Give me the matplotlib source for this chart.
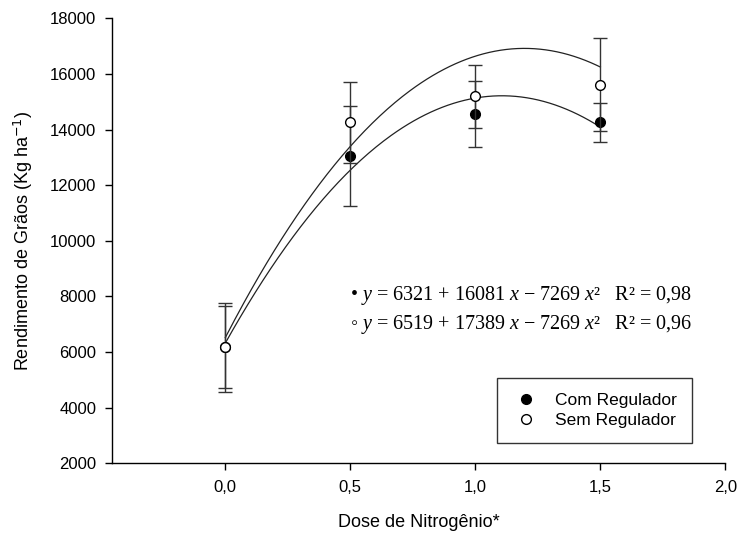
import numpy as np
import matplotlib
matplotlib.use("Agg")
import matplotlib.pyplot as plt
from matplotlib.lines import Line2D

plt.rcParams['font.family'] = ['Liberation Sans', 'DejaVu Sans']
plt.rcParams['mathtext.fontset'] = 'custom'
plt.rcParams['mathtext.rm'] = 'Liberation Serif'
plt.rcParams['mathtext.it'] = 'Liberation Serif:italic'
plt.rcParams['mathtext.bf'] = 'Liberation Serif:bold'

# Nitrogen doses and grain yield (kg/ha) with error bars
doses = [0.0, 0.5, 1.0, 1.5]
com_regulador = [6170, 13050, 14570, 14255]
com_erro = [1480, 1800, 1190, 710]
sem_regulador = [6180, 14255, 15200, 15614]
sem_erro = [1600, 1470, 1130, 1665]

# Quadratic fits: y = b0 + b1*x + b2*x^2
coef_com = [6321, 16081, -7269]
coef_sem = [6519, 17389, -7269]
r2_com = "0,98"
r2_sem = "0,96"

x_ticks = [0.0, 0.5, 1.0, 1.5, 2.0]
x_ticklabels = ["0,0", "0,5", "1,0", "1,5", "2,0"]
y_ticks = [2000, 4000, 6000, 8000, 10000, 12000, 14000, 16000, 18000]

fig = plt.figure(figsize=(7.41, 5.34), dpi=100)
ax = fig.add_axes([0.1505, 0.1324, 0.8285, 0.8333])

xs = np.linspace(0, 1.5, 200)
for c in (coef_com, coef_sem):
    ax.plot(xs, c[0] + c[1] * xs + c[2] * xs ** 2, color='#222222', lw=0.9, zorder=2)

ax.errorbar(doses, com_regulador, yerr=com_erro, fmt='o', color='#333333',
            mfc='black', mec='black', ms=7, ecolor='#333333', elinewidth=1.0,
            capsize=5, capthick=1.0, zorder=3)
ax.errorbar(doses, sem_regulador, yerr=sem_erro, fmt='o', color='#333333',
            mfc='white', mec='black', ms=7, mew=1.0, ecolor='#333333',
            elinewidth=1.0, capsize=5, capthick=1.0, zorder=4)

ax.set_xlim(-0.455, 2.0)
ax.set_ylim(2000, 18000)
ax.set_xticks(x_ticks)
ax.set_xticklabels(x_ticklabels)
ax.set_yticks(y_ticks)
ax.tick_params(axis='both', direction='out', length=5, width=1, labelsize=12,
               colors='black', pad=6)
ax.tick_params(axis='x', pad=7)
for s in ('top', 'right'):
    ax.spines[s].set_visible(False)
for s in ('left', 'bottom'):
    ax.spines[s].set_linewidth(1.0)

ax.set_xlabel("Dose de Nitrogênio*", fontsize=13, labelpad=14)
ax.set_ylabel("Rendimento de Grãos (Kg ha$^{\\mathsf{-1}}$)", fontsize=13, labelpad=11)


def equation(c, r2, sym):
    return ("%s $y$ = %d + %d $x$ \u2212 %d $x$\u00b2   R\u00b2 = %s"
            % (sym, c[0], c[1], -c[2], r2))


eq_style = dict(transform=ax.transAxes, fontsize=14.5, va='center', ha='left',
                family=['Liberation Serif', 'DejaVu Serif'])
ax.text(0.388, 0.378, equation(coef_com, r2_com, "\u2022"), **eq_style)
ax.text(0.388, 0.313, equation(coef_sem, r2_sem, "\u25e6"), **eq_style)

handles = [
    Line2D([], [], ls='none', marker='o', mfc='black', mec='black', ms=7),
    Line2D([], [], ls='none', marker='o', mfc='white', mec='black', ms=7),
]
leg = ax.legend(handles, ["Com Regulador", "Sem Regulador"], loc='upper left',
                bbox_to_anchor=(0.628, 0.1917), fontsize=12.5, frameon=True,
                fancybox=False, edgecolor='black', borderpad=0.85,
                handletextpad=0.9, labelspacing=0.3, handlelength=1.6,
                borderaxespad=0)
leg.get_frame().set_linewidth(1.0)

fig.savefig("out.png", dpi=100)
